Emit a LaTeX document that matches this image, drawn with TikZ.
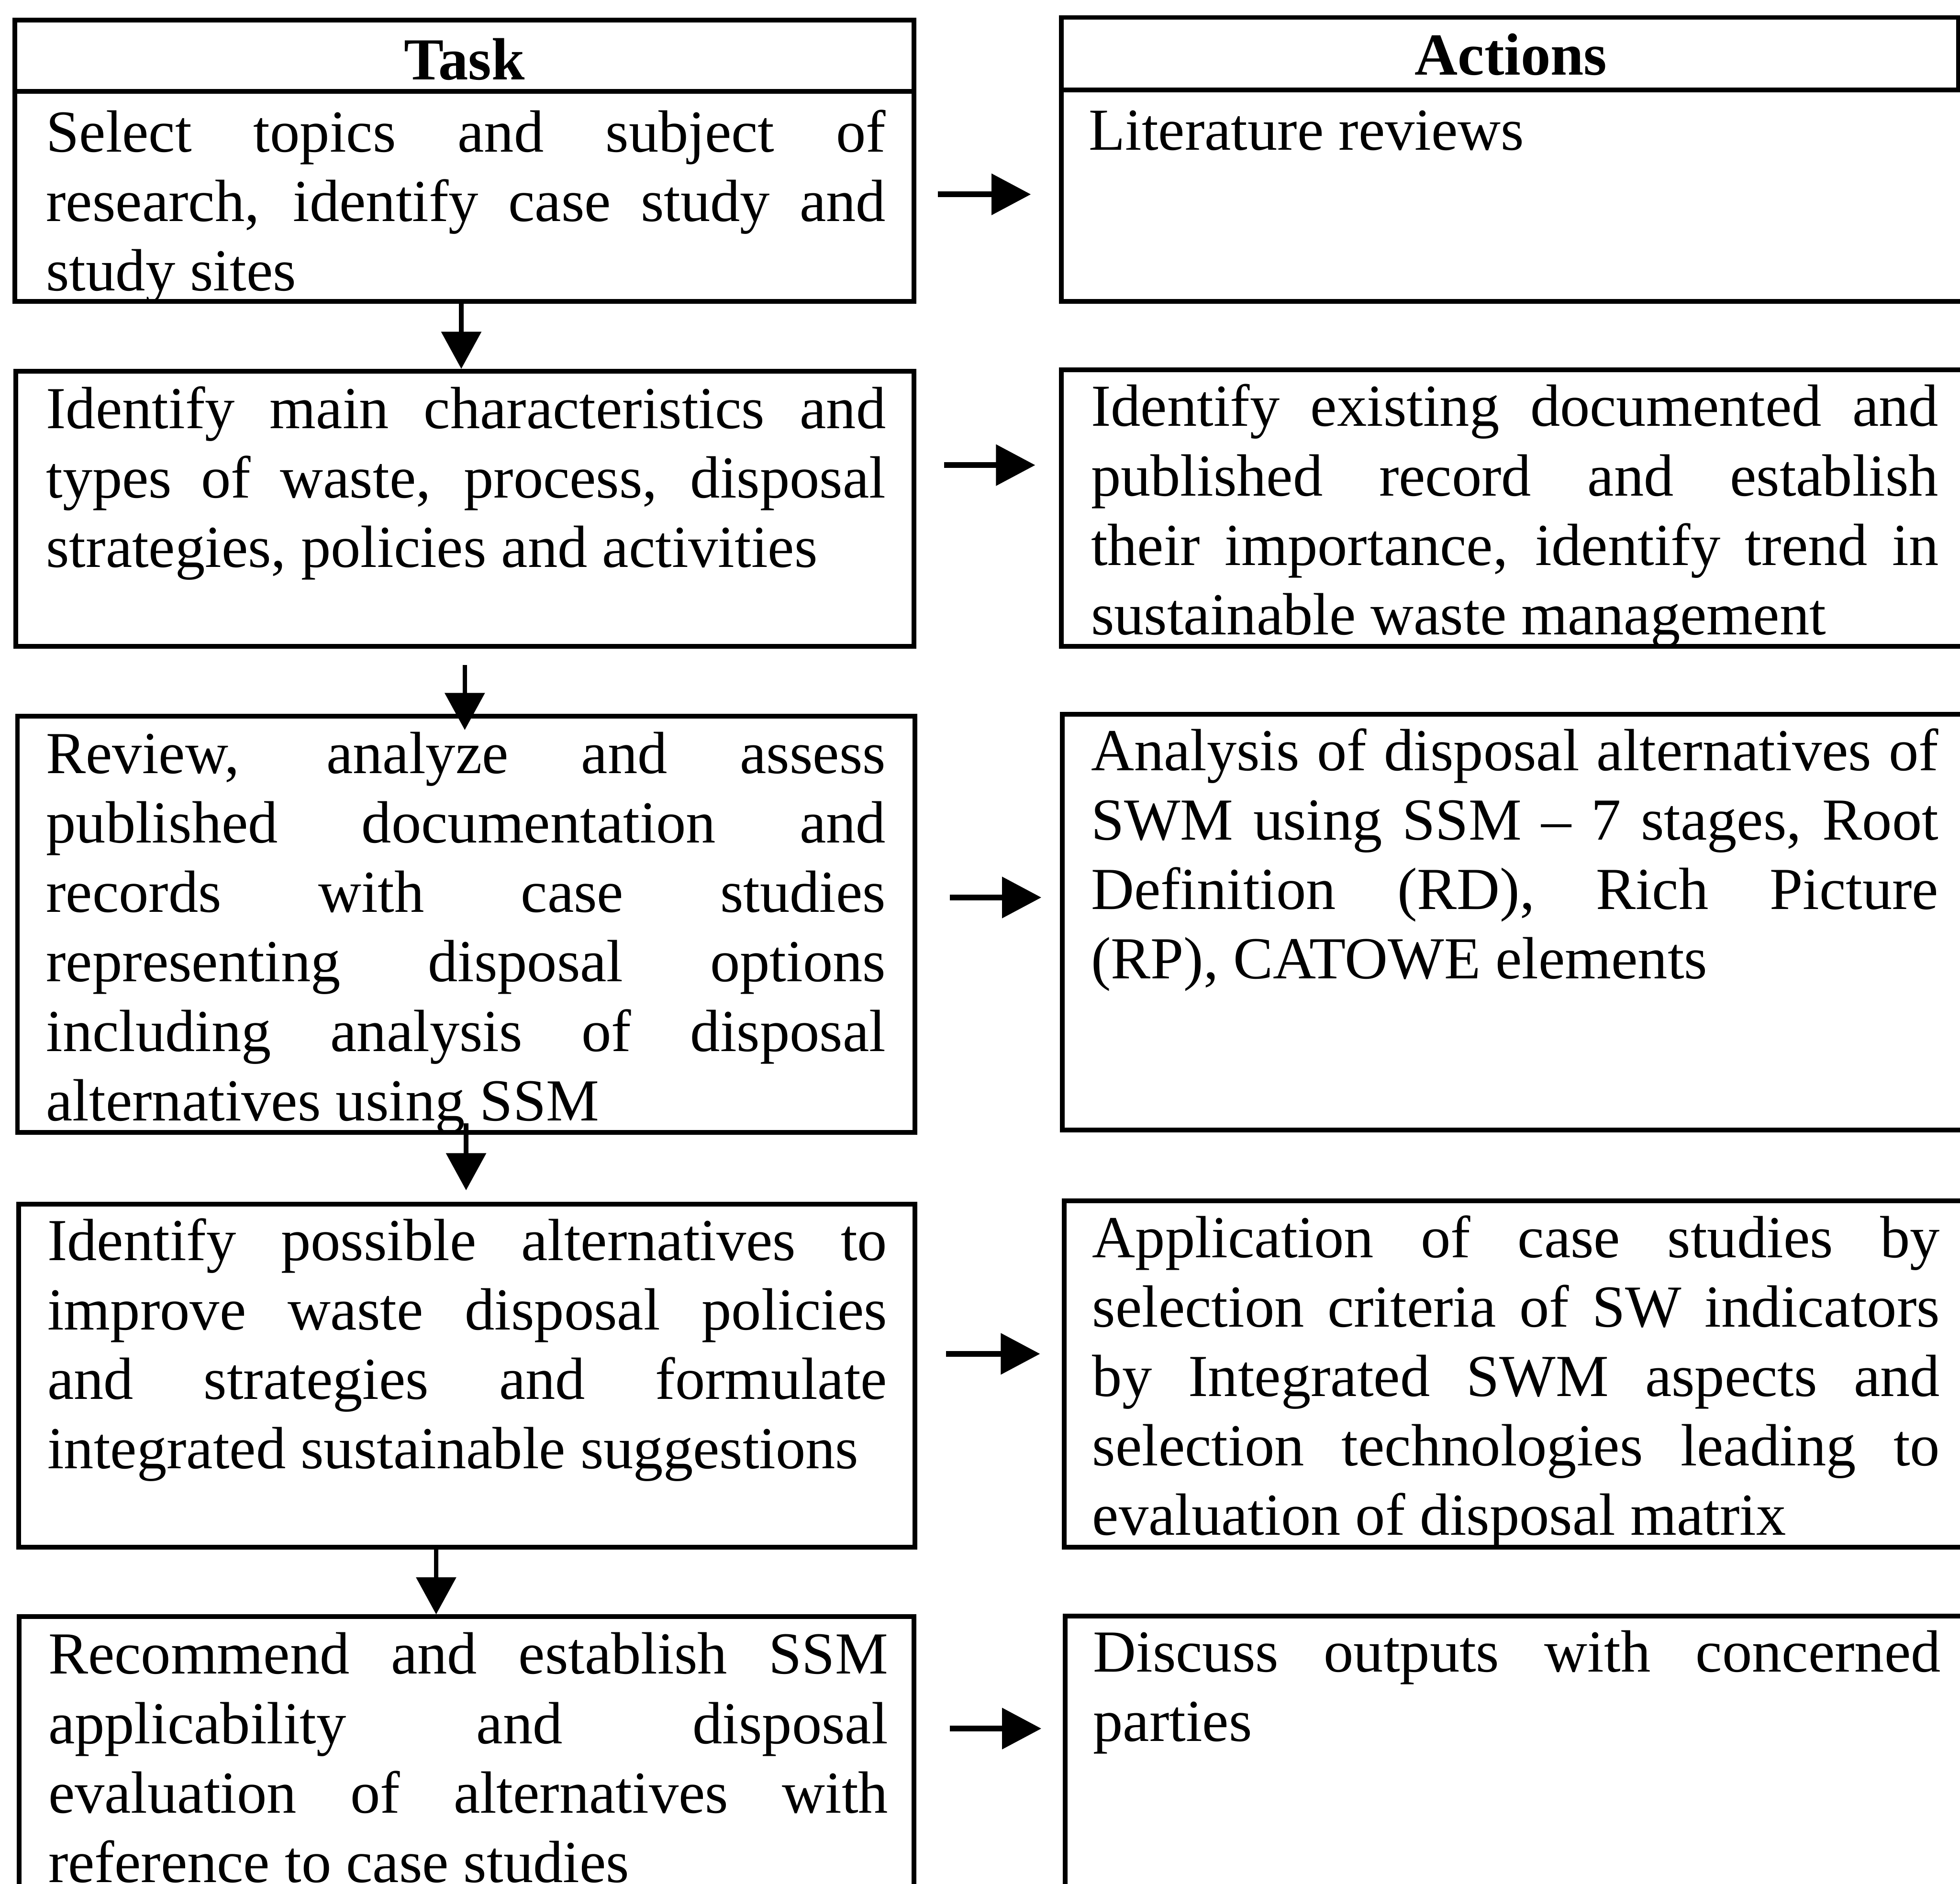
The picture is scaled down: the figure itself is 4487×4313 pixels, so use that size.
\documentclass[tikz,border=0pt]{standalone}
\usepackage{fontspec}
\setmainfont{Liberation Serif}
\usetikzlibrary{arrows.meta,fit}

% column text widths
\newlength\lcolw \setlength\lcolw{19.21cm}
\newlength\rcolw \setlength\rcolw{19.39cm}
% one fully justified line of a given width
\newcommand\jl[2]{\makebox[#1][s]{\strut #2}}

\begin{document}
\begin{tikzpicture}[x=0.01cm,y=-0.01cm,
  frame/.style={draw=black, line width=3.1pt, inner sep=0pt},
  hd/.style={anchor=base, inner sep=0pt, font=\fontsize{38.8pt}{45.2pt}\selectfont\bfseries},
  txt/.style={anchor=north west, inner sep=0pt, align=left,
              font=\fontsize{38.8pt}{45.2pt}\selectfont},
  varr/.style={line width=2.9pt, -{Triangle[length=0.85cm,width=0.9cm]}},
  harr/.style={line width=3.6pt, -{Triangle[length=0.9cm,width=0.92cm]}}]

\useasboundingbox[fill=white] (0,0) rectangle (4487,4313);

% ---- boxes ----
\node[frame, fit={(34,46) (2092,209)}]     (taskhead) {};
\node[frame, fit={(34,209) (2092,690)}]    (t1) {};
\node[frame, fit={(2430,40) (4484,206)}]   (acthead) {};
\node[frame, fit={(2430,206) (4495,690)}]  (a1) {};
\node[frame, fit={(36,850) (2092,1480)}]   (t2) {};
\node[frame, fit={(2430,847) (4495,1480)}] (a2) {};
\node[frame, fit={(40,1640) (2094,2593)}]  (t3) {};
\node[frame, fit={(2432,1635) (4495,2587)}] (a3) {};
\node[frame, fit={(43,2757) (2094,3543)}]  (t4) {};
\node[frame, fit={(2436,2750) (4495,3543)}] (a4) {};
\node[frame, fit={(44,3702) (2092,4400)}]  (t5) {};
\node[frame, fit={(2438,3700) (4495,4400)}] (a5) {};

% ---- headers ----
\node[hd] (tasklbl) at (1063,182) {Task};
\node[hd] (actlbl)  at (3459,172) {Actions};

% ---- task texts ----
\node[txt] (t1txt) at (105,236) {%
  \jl\lcolw{Select topics and subject of}\\
  \jl\lcolw{research, identify case study and}\\
  \strut study sites};
\node[txt] (t2txt) at (105,869) {%
  \jl\lcolw{Identify main characteristics and}\\
  \jl\lcolw{types of waste, process, disposal}\\
  \strut strategies, policies and activities};
\node[txt] (t3txt) at (105,1659) {%
  \jl\lcolw{Review, analyze and assess}\\
  \jl\lcolw{published documentation and}\\
  \jl\lcolw{records with case studies}\\
  \jl\lcolw{representing disposal options}\\
  \jl\lcolw{including analysis of disposal}\\
  \strut alternatives using SSM};
\node[txt] (t4txt) at (108,2774) {%
  \jl\lcolw{Identify possible alternatives to}\\
  \jl\lcolw{improve waste disposal policies}\\
  \jl\lcolw{and strategies and formulate}\\
  \strut integrated sustainable suggestions};
\node[txt] (t5txt) at (110,3721) {%
  \jl\lcolw{Recommend and establish SSM}\\
  \jl\lcolw{applicability and disposal}\\
  \jl\lcolw{evaluation of alternatives with}\\
  \strut reference to case studies};

% ---- action texts ----
\node[txt] (a1txt) at (2492,231) {\strut Literature reviews};
\node[txt] (a2txt) at (2497,864) {%
  \jl\rcolw{Identify existing documented and}\\
  \jl\rcolw{published record and establish}\\
  \jl\rcolw{their importance, identify trend in}\\
  \strut sustainable waste management};
\node[txt] (a3txt) at (2497,1652) {%
  \jl\rcolw{Analysis of disposal alternatives of}\\
  \jl\rcolw{SWM using SSM -- 7 stages, Root}\\
  \jl\rcolw{Definition (RD), Rich Picture}\\
  \strut (RP), CATOWE elements};
\node[txt] (a4txt) at (2500,2767) {%
  \jl\rcolw{Application of case studies by}\\
  \jl\rcolw{selection criteria of SW indicators}\\
  \jl\rcolw{by Integrated SWM aspects and}\\
  \jl\rcolw{selection technologies leading to}\\
  \strut evaluation of disposal matrix};
\node[txt] (a5txt) at (2502,3716) {%
  \jl\rcolw{Discuss outputs with concerned}\\
  \strut parties};

% ---- downward flow between tasks ----
\draw[varr] ([xshift=-0.07cm]t1.south) -- ([xshift=-0.07cm]t1.south |- t2.north);
\draw[varr] ([yshift=-0.37cm]t2.south) -- ([yshift=-0.37cm]t2.south |- t3.north);
\draw[varr] ([yshift=0.26cm]t3.south) -- ([yshift=0.26cm]t3.south |- t4.north);
\draw[varr] ([xshift=-0.7cm]t4.south) -- ([xshift=-0.7cm]t4.south |- t5.north);

% ---- task to action arrows ----
\coordinate (h1a) at (2147,445);  \coordinate (h1b) at (2360,445);
\coordinate (h2a) at (2161,1065); \coordinate (h2b) at (2370,1065);
\coordinate (h3a) at (2175,2055); \coordinate (h3b) at (2384,2055);
\coordinate (h4a) at (2166,3100); \coordinate (h4b) at (2381,3100);
\coordinate (h5a) at (2175,3958); \coordinate (h5b) at (2384,3958);
\draw[harr] (h1a) -- (h1b);
\draw[harr] (h2a) -- (h2b);
\draw[harr] (h3a) -- (h3b);
\draw[harr] (h4a) -- (h4b);
\draw[harr] (h5a) -- (h5b);

\end{tikzpicture}
\end{document}
